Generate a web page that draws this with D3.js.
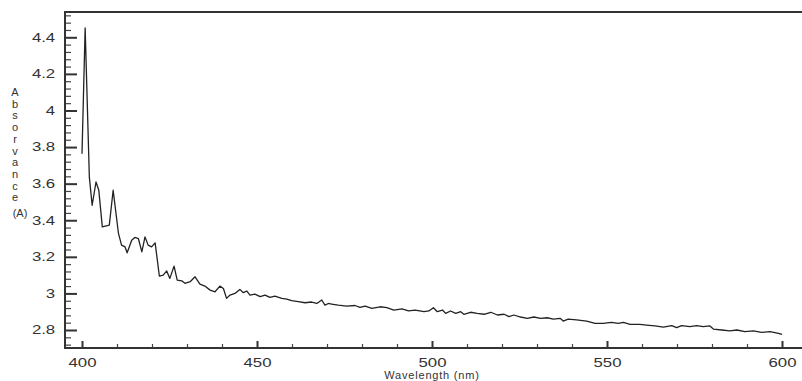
<!DOCTYPE html>
<html>
<head>
<meta charset="utf-8">
<script src="https://d3js.org/d3.v7.min.js"></script>
<style>
  body { margin: 0; background: #fff; }
  svg { display: block; font-family: "Liberation Sans", Arial, sans-serif; }
</style>
</head>
<body>
<div id="chart"></div>
<script>
// Spectrum
const wavelength = [
  400.0, 400.9, 402.1, 402.9, 404.0, 404.8, 405.8, 407.8, 408.9, 410.4,
  411.3, 412.3, 412.9, 414.2, 415.1, 416.1, 417.1, 418.0, 418.9, 419.9,
  420.9, 422.1, 423.2, 424.2, 425.1, 426.3, 427.2, 428.5, 429.4, 430.9,
  432.3, 433.7, 435.1, 436.6, 438.0, 439.4, 440.4, 441.3, 442.3, 443.7,
  445.1, 446.1, 447.1, 448.0, 449.4, 450.9, 452.3, 453.7, 455.1, 457.1,
  458.5, 459.9, 461.8, 463.7, 465.6, 467.1, 468.5, 469.4, 470.4, 471.3,
  473.2, 475.6, 478.0, 479.4, 480.9, 482.8, 485.2, 487.1, 489.1, 491.4,
  493.3, 495.2, 497.7, 499.1, 500.4, 501.5, 503.0, 503.9, 505.3, 506.8,
  508.2, 509.1, 511.0, 512.9, 514.9, 516.8, 518.7, 520.6, 522.0, 523.4,
  525.3, 527.2, 529.1, 531.0, 532.9, 534.7, 536.6, 537.5, 538.9, 541.3,
  544.2, 546.6, 548.9, 551.3, 553.2, 554.7, 556.6, 559.4, 561.3, 563.7,
  566.1, 568.5, 569.9, 571.3, 573.7, 575.6, 577.5, 579.4, 580.4, 582.8,
  585.1, 587.1, 589.4, 591.8, 594.2, 596.6, 599.0, 600.0
];
const absorbance = [
  3.764, 4.451, 3.636, 3.482, 3.609, 3.564, 3.364, 3.373, 3.564, 3.330,
  3.264, 3.254, 3.222, 3.291, 3.306, 3.300, 3.227, 3.309, 3.264, 3.254,
  3.276, 3.095, 3.100, 3.123, 3.082, 3.149, 3.073, 3.069, 3.055, 3.064,
  3.091, 3.051, 3.040, 3.018, 3.009, 3.040, 3.027, 2.973, 2.991, 3.000,
  3.022, 3.004, 3.013, 2.991, 2.996, 2.982, 2.991, 2.978, 2.985, 2.973,
  2.969, 2.960, 2.955, 2.949, 2.953, 2.945, 2.964, 2.936, 2.945, 2.942,
  2.936, 2.931, 2.934, 2.924, 2.931, 2.918, 2.927, 2.922, 2.909, 2.915,
  2.904, 2.909, 2.900, 2.904, 2.922, 2.900, 2.909, 2.891, 2.904, 2.891,
  2.900, 2.886, 2.897, 2.891, 2.886, 2.897, 2.882, 2.886, 2.873, 2.882,
  2.871, 2.864, 2.871, 2.864, 2.867, 2.860, 2.864, 2.849, 2.860, 2.855,
  2.849, 2.836, 2.836, 2.842, 2.836, 2.842, 2.831, 2.831, 2.827, 2.822,
  2.816, 2.824, 2.813, 2.824, 2.818, 2.824, 2.818, 2.822, 2.805, 2.800,
  2.795, 2.800, 2.791, 2.795, 2.787, 2.791, 2.782, 2.776
];
const xMajorTicks = [400, 450, 500, 550, 600];
const yMajorTicks = [2.8, 3, 3.2, 3.4, 3.6, 3.8, 4, 4.2, 4.4];
const yLabelLetters = ["A", "b", "s", "o", "r", "v", "a", "n", "c", "e"];

const data = wavelength.map((w, i) => ({w: w, a: absorbance[i]}));

// Dimensions
const W = 802, H = 381;
const frame = {left: 65, right: 803, top: 12, bottom: 348};

const svg = d3.select("#chart").append("svg")
    .attr("width", W)
    .attr("height", H);

// Scales
const x = d3.scaleLinear().domain([400, 600]).range([82, 782]);
const y = d3.scaleLinear().domain([2.8, 4.4]).range([330, 37.3]);

const xMinor = d3.range(400, 601, 10).filter(v => v % 50 !== 0);
const yMinor = d3.range(68, 114).map(v => v * 0.04).filter(v => Math.abs(v * 5 - Math.round(v * 5)) > 1e-6);

// Y axis ticks (pointing inward)
svg.append("g")
    .attr("transform", `translate(${frame.left},0)`)
    .call(d3.axisLeft(y).tickValues(yMinor).tickSize(-6).tickFormat(""))
    .call(g => g.select(".domain").remove())
    .call(g => g.selectAll("line").attr("stroke", "#444").attr("stroke-width", 1.2));

const yAxis = svg.append("g")
    .attr("transform", `translate(${frame.left},0)`)
    .call(d3.axisLeft(y).tickValues(yMajorTicks).tickSize(-12).tickPadding(7)
        .tickFormat(d => d3.format("~g")(d)))
    .call(g => g.select(".domain").remove());
yAxis.selectAll("line").attr("stroke", "#333").attr("stroke-width", 2);
yAxis.selectAll("text")
    .attr("font-size", 12)
    .attr("fill", "#333")
    .attr("font-family", "Liberation Sans, Arial, sans-serif")
    .attr("transform", "scale(1.4,1)");

// X axis ticks (pointing inward)
svg.append("g")
    .attr("transform", `translate(0,${frame.bottom})`)
    .call(d3.axisBottom(x).tickValues(xMinor).tickSize(-4).tickFormat(""))
    .call(g => g.select(".domain").remove())
    .call(g => g.selectAll("line").attr("stroke", "#444").attr("stroke-width", 1.2));

const xAxis = svg.append("g")
    .attr("transform", `translate(0,${frame.bottom})`)
    .call(d3.axisBottom(x).tickValues(xMajorTicks).tickSize(-7).tickPadding(10))
    .call(g => g.select(".domain").remove());
xAxis.selectAll("line").attr("stroke", "#333").attr("stroke-width", 2);
xAxis.selectAll("text")
    .attr("font-size", 12)
    .attr("fill", "#333")
    .attr("font-family", "Liberation Sans, Arial, sans-serif")
    .attr("transform", "scale(1.4,1)");

// Frame (left, top, bottom)
svg.append("path")
    .attr("d", `M${frame.right},${frame.top}H${frame.left}V${frame.bottom}H${frame.right}`)
    .attr("fill", "none")
    .attr("stroke", "#333")
    .attr("stroke-width", 2);

// Spectrum line
const line = d3.line()
    .x(d => x(d.w))
    .y(d => y(d.a));

svg.append("path")
    .datum(data)
    .attr("fill", "none")
    .attr("stroke", "#222")
    .attr("stroke-width", 1.3)
    .attr("stroke-linejoin", "round")
    .attr("d", line);

// X axis label
svg.append("text")
    .attr("x", (x(400) + x(600)) / 2)
    .attr("y", 379)
    .attr("text-anchor", "middle")
    .attr("font-size", 11)
    .attr("fill", "#333")
    .attr("letter-spacing", 0.8)
    .text("Wavelength (nm)");

// Y axis label, stacked letters
const yLabel = svg.append("g");
yLabelLetters.forEach((ch, i) => {
  yLabel.append("text")
      .attr("x", 15)
      .attr("y", 96 + i * 11.7)
      .attr("text-anchor", "middle")
      .attr("font-size", 11)
      .attr("fill", "#333")
      .text(ch);
});
yLabel.append("text")
    .attr("x", 20)
    .attr("y", 217)
    .attr("text-anchor", "middle")
    .attr("font-size", 11)
    .attr("fill", "#333")
    .text("(A)");
</script>
</body>
</html>
